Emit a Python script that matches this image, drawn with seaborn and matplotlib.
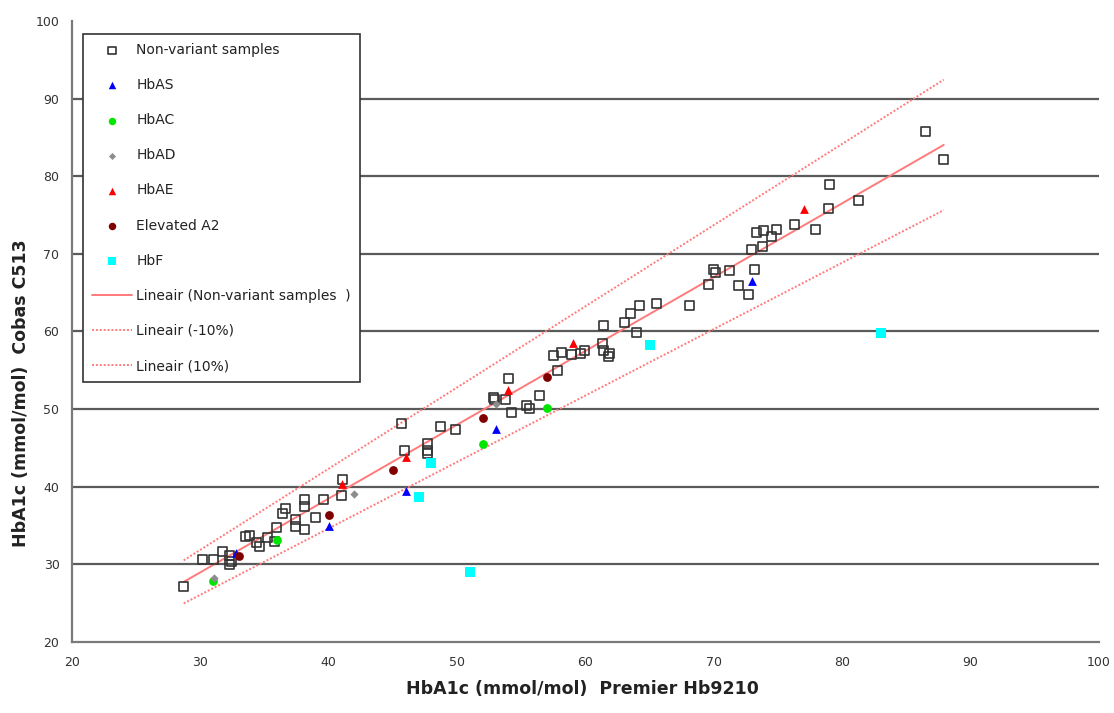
import matplotlib
matplotlib.use("Agg")
import matplotlib.pyplot as plt
import numpy as np
import pandas as pd
import seaborn as sns

# data
NONVAR_X = [28.7, 30.2, 31.0, 31.7, 32.3, 32.4, 32.3, 33.5, 33.8, 34.4, 34.6, 35.2,
            35.9, 35.8, 36.4, 36.6, 37.4, 37.4, 38.1, 38.1, 38.1, 39.0, 39.6, 41.0,
            41.1, 45.7, 45.9, 47.7, 47.7, 47.7, 48.7, 49.9, 52.8, 52.9, 53.8, 54.0,
            54.2, 55.4, 55.6, 56.4, 57.8, 57.5, 58.1, 58.9, 59.6, 59.9, 61.3, 61.4,
            61.9, 61.8, 61.4, 63.0, 63.5, 64.0, 64.2, 65.5, 68.1, 69.6, 69.95, 70.1,
            71.2, 71.9, 72.7, 73.2, 72.9, 73.8, 73.3, 73.9, 74.5, 74.9, 76.3, 77.9,
            78.9, 79.0, 81.3, 86.5, 87.9]
NONVAR_Y = [27.1, 30.6, 30.6, 31.6, 31.1, 30.4, 30.0, 33.6, 33.7, 32.8, 32.3, 33.4,
            34.7, 32.9, 36.6, 37.2, 35.8, 34.9, 38.3, 37.4, 34.5, 36.1, 38.4, 38.9,
            40.9, 48.1, 44.7, 45.6, 44.7, 44.3, 47.7, 47.4, 51.5, 51.3, 51.2, 54.0,
            49.5, 50.4, 50.1, 51.7, 55.0, 56.9, 57.3, 57.0, 57.2, 57.5, 58.4, 57.5,
            57.1, 56.8, 60.8, 61.2, 62.3, 59.9, 63.4, 63.6, 63.4, 66.1, 68.0, 67.6,
            67.8, 65.9, 64.7, 68.0, 70.6, 70.9, 72.7, 73.0, 72.2, 73.1, 73.8, 73.1,
            75.9, 78.9, 76.9, 85.8, 82.1]

HBAS_X = [32.8, 40.0, 46.0, 53.0, 73.0]
HBAS_Y = [31.4, 34.9, 39.4, 47.5, 66.5]
HBAC_X = [31.0, 36.0, 52.0, 57.0]
HBAC_Y = [27.9, 33.2, 45.5, 50.2]
HBAD_X = [31.1, 42.0, 53.0]
HBAD_Y = [28.2, 39.1, 50.6]
HBAE_X = [41.0, 46.0, 54.0, 59.0, 77.0]
HBAE_Y = [40.3, 43.8, 52.5, 58.5, 75.8]
A2_X = [33.0, 40.0, 45.0, 52.0, 57.0]
A2_Y = [31.1, 36.4, 42.2, 48.9, 54.1]
HBF_X = [47.0, 48.0, 51.0, 65.0, 83.0]
HBF_Y = [38.7, 43.0, 29.0, 58.3, 59.8]

GROUPS = [
    ("Non-variant samples", NONVAR_X, NONVAR_Y),
    ("HbAS", HBAS_X, HBAS_Y),
    ("HbAC", HBAC_X, HBAC_Y),
    ("HbAD", HBAD_X, HBAD_Y),
    ("HbAE", HBAE_X, HBAE_Y),
    ("Elevated A2", A2_X, A2_Y),
    ("HbF", HBF_X, HBF_Y),
]

STYLES = {
    "Non-variant samples": dict(marker="s", facecolor="none", edgecolor="#333333", s=42, linewidth=1.2),
    "HbAS": dict(marker="^", color="#0000ff", s=40, linewidth=0),
    "HbAC": dict(marker="o", color="#00e600", s=40, linewidth=0),
    "HbAD": dict(marker="D", color="#8c8c8c", s=18, linewidth=0),
    "HbAE": dict(marker="^", color="#ff0000", s=40, linewidth=0),
    "Elevated A2": dict(marker="o", color="#800000", s=40, linewidth=0),
    "HbF": dict(marker="s", color="#00ffff", s=45, linewidth=0),
}

# trendlines: fit on non-variant samples, then on -10% and +10% copies
TRENDS = [
    ("Lineair (Non-variant samples  )", 1.0, "-"),
    ("Lineair (-10%)", 0.9, (0, (1, 1))),
    ("Lineair (10%)", 1.1, (0, (1, 1))),
]

XLABEL = "HbA1c (mmol/mol)  Premier Hb9210"
YLABEL = "HbA1c (mmol/mol)  Cobas C513"
LINE_COLOR = "#ff7a7a"


def main():
    sns.set_theme(style="white")
    plt.rcParams["font.family"] = ["DejaVu Sans"]

    fig = plt.figure(figsize=(11.14, 7.13), dpi=100)
    ax = fig.add_axes([0.0646, 0.0996, 0.922, 0.871])

    for y in range(30, 100, 10):
        ax.axhline(y, color="#5a5a5a", lw=1.6, zorder=0)

    for name, xs, ys in GROUPS:
        sns.scatterplot(x=xs, y=ys, ax=ax, label=name, zorder=3, **STYLES[name])

    x = np.array(NONVAR_X)
    y = np.array(NONVAR_Y)
    xfit = np.array([x.min(), x.max()])
    for label, factor, ls in TRENDS:
        slope, icpt = np.polyfit(x, y * factor, 1)
        trend = pd.DataFrame({"x": xfit, "y": slope * xfit + icpt})
        sns.lineplot(data=trend, x="x", y="y", ax=ax, color=LINE_COLOR, lw=1.4,
                     linestyle=ls, label=label, zorder=2)

    ax.set_xlim(20, 100)
    ax.set_ylim(20, 100)
    ax.set_xticks(range(20, 101, 10))
    ax.set_yticks(range(20, 101, 10))
    ax.set_xlabel(XLABEL, fontsize=12.5, fontweight="bold", color="#222222")
    ax.set_ylabel(YLABEL, fontsize=12.5, fontweight="bold", color="#222222")
    ax.xaxis.set_label_coords(0.497, -0.061)
    ax.yaxis.set_label_coords(-0.041, 0.40)

    for side in ("top", "right"):
        ax.spines[side].set_visible(False)
    for side in ("left", "bottom"):
        ax.spines[side].set_color("#7a7a7a")
        ax.spines[side].set_linewidth(1.6)
    ax.tick_params(axis="x", direction="inout", length=8, width=1.2, color="#7a7a7a",
                   labelsize=9, labelcolor="#333333", pad=6)
    ax.tick_params(axis="y", direction="out", length=5, width=1.2, color="#7a7a7a",
                   labelsize=9, labelcolor="#333333", pad=4)

    leg = ax.legend(loc="upper left", bbox_to_anchor=(0.0107, 0.979), borderaxespad=0,
                    fontsize=10, labelspacing=1.52, handlelength=2.9, handletextpad=0.3,
                    borderpad=0.65, markerscale=0.85, frameon=True, fancybox=False)
    leg.get_frame().set_edgecolor("#333333")
    leg.get_frame().set_linewidth(1.2)
    leg.get_frame().set_facecolor("white")
    leg.get_frame().set_alpha(1)
    for t in leg.get_texts():
        t.set_color("#222222")

    fig.savefig("out.png", dpi=100)
    plt.close(fig)


if __name__ == "__main__":
    main()
